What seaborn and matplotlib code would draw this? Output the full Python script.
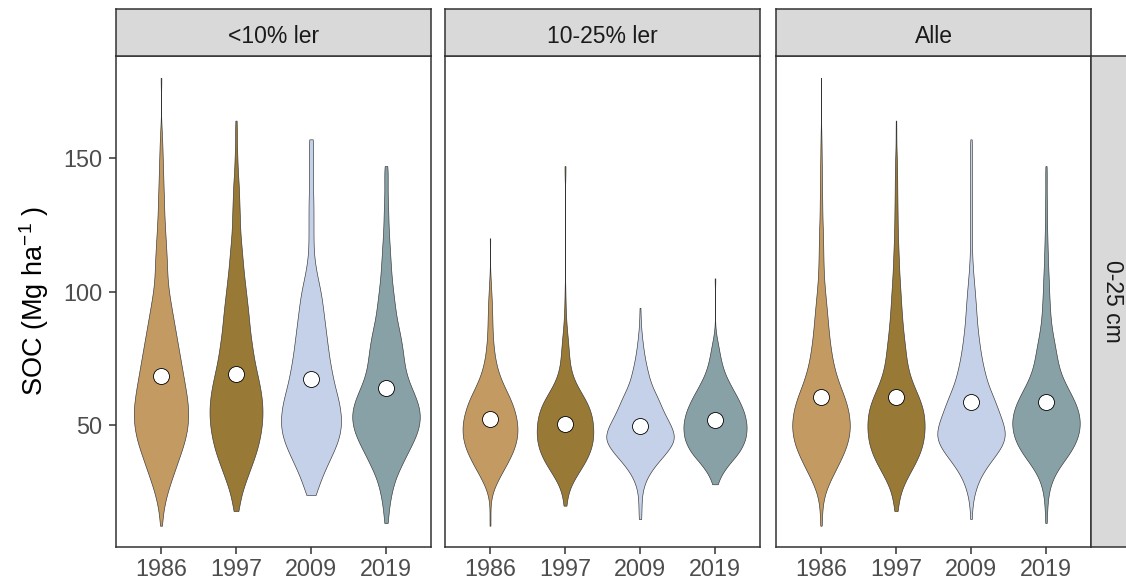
import numpy as np
import pandas as pd
import matplotlib
matplotlib.use('Agg')
import matplotlib.pyplot as plt
import seaborn as sns

sns.set_style('white')
plt.rcParams['font.family'] = ['Liberation Sans', 'DejaVu Sans']
plt.rcParams['mathtext.fontset'] = 'custom'
plt.rcParams['mathtext.rm'] = 'Liberation Sans'
plt.rcParams['mathtext.it'] = 'Liberation Sans:italic'

years = ['1986', '1997', '2009', '2019']
farver = ['#C29A62', '#997936', '#C5D1E8', '#87A1A6']
paneler = ['<10% ler', '10-25% ler', 'Alle']
dybde = '0-25 cm'

# SOC-klasser (Mg/ha) og antal jorder i hver klasse
soc_klasser = [15, 20, 25, 30, 35, 40, 45, 50, 55, 60,
               65, 70, 75, 80, 85, 90, 95, 100, 105, 110,
               115, 120, 125, 130, 135, 140, 145, 150, 155, 160]

# <10% ler
antal_lav = {
    '1986': [1, 4, 8, 14, 20, 26, 32, 35, 36, 34, 31, 28, 25, 22, 19, 16, 13, 10, 8, 8, 7, 6, 5, 4, 4, 3, 3, 2, 2, 1],
    '1997': [0, 4, 7, 14, 20, 27, 31, 34, 35, 34, 31, 27, 23, 21, 18, 17, 15, 13, 11, 9, 8, 6, 5, 5, 4, 4, 2, 2, 1, 1],
    '2009': [0, 0, 6, 12, 19, 27, 34, 37, 36, 33, 28, 25, 22, 20, 18, 16, 14, 12, 8, 5, 3, 3, 3, 3, 3, 2, 3, 2, 3, 0],
    '2019': [2, 4, 7, 11, 19, 27, 36, 42, 43, 38, 30, 24, 22, 20, 17, 13, 11, 9, 7, 6, 5, 4, 3, 3, 2, 2, 2, 0, 0, 0],
}
min_lav = [12.5, 18, 24, 13.5]
max_lav = [180, 164, 157, 147]

# 10-25% ler
antal_mellem = {
    '1986': [1, 0, 3, 17, 33, 48, 57, 58, 52, 43, 27, 16, 10, 7, 5, 5, 4, 3, 1, 0, 0, 0, 0, 0, 0, 0, 0, 0, 0, 0],
    '1997': [0, 2, 4, 17, 36, 50, 56, 55, 52, 40, 21, 11, 8, 7, 4, 2, 1, 1, 0, 0, 0, 0, 0, 0, 0, 0, 1, 0, 0, 0],
    '2009': [2, 3, 4, 12, 30, 56, 76, 64, 48, 38, 23, 16, 10, 6, 3, 1, 0, 0, 0, 0, 0, 0, 0, 0, 0, 0, 0, 0, 0, 0],
    '2019': [0, 0, 0, 6, 22, 45, 56, 58, 53, 42, 28, 16, 10, 6, 1, 0, 0, 0, 0, 0, 0, 0, 0, 0, 0, 0, 0, 0, 0, 0],
}
min_mellem = [12.5, 21.5, 15, 28]
max_mellem = [120, 147, 94, 105]

# udfold tabellerne til enkeltmaalinger
dele = []
for tekstur, antal, lo, hi in [('<10% ler', antal_lav, min_lav, max_lav),
                               ('10-25% ler', antal_mellem, min_mellem, max_mellem)]:
    for j, aar in enumerate(years):
        soc = np.concatenate([np.repeat(soc_klasser, antal[aar]), [lo[j], hi[j]]])
        dele.append(pd.DataFrame({'tekstur': tekstur, 'year': aar, 'soc': soc}))
df = pd.concat(dele, ignore_index=True)
df = pd.concat([df, df.assign(tekstur='Alle')], ignore_index=True)

W, H = 1126, 581
fig = plt.figure(figsize=(W / 100, H / 100), dpi=100)
lefts = [116, 445, 776]
pw = 315
bund, hoejde = (H - 546.7) / H, (546.7 - 55.5) / H
bw = [0.5, 0.9, 0.65]
kant = '#333333'

for i, navn in enumerate(paneler):
    ax = fig.add_axes([lefts[i] / W, bund, pw / W, hoejde])
    sub = df[df.tekstur == navn]
    sns.violinplot(data=sub, x='year', y='soc', hue='year', order=years, hue_order=years,
                   palette=farver, saturation=1, cut=0, inner=None, density_norm='area',
                   common_norm=True, width=0.9, linewidth=0.45, linecolor=kant,
                   bw_adjust=bw[i], legend=False, ax=ax)
    sns.pointplot(data=sub, x='year', y='soc', order=years, estimator='mean', errorbar=None,
                  color='black', linestyle='none', marker='o', markersize=11.5,
                  markerfacecolor='white', markeredgecolor='black', markeredgewidth=0.6, ax=ax)
    ax.set_xlim(-0.6, 3.6)
    ax.set_ylim(4.65, 188.35)
    ax.set_xlabel('')
    ax.set_ylabel('')
    ax.set_yticks([50, 100, 150])
    ax.tick_params(axis='both', length=5, width=1.1, color=kant, labelcolor='#4D4D4D',
                   labelsize=16.8, direction='out')
    ax.tick_params(axis='x', pad=3, bottom=True)
    ax.tick_params(axis='y', pad=5, left=True)
    if i > 0:
        ax.tick_params(axis='y', left=False, labelleft=False)
    for s in ax.spines.values():
        s.set_color(kant)
        s.set_linewidth(1.1)

    # strip foroven
    sax = fig.add_axes([lefts[i] / W, (H - 55.5) / H, pw / W, 46.5 / H])
    sax.set_facecolor('#D9D9D9')
    sax.set_xticks([])
    sax.set_yticks([])
    for s in sax.spines.values():
        s.set_color(kant)
        s.set_linewidth(1.1)
    sax.text(0.5, 0.27, navn, ha='center', va='baseline', fontsize=16.5, color='#1A1A1A',
             transform=sax.transAxes)

# strip til hoejre
rax = fig.add_axes([1091 / W, bund, 46 / W, hoejde])
rax.set_facecolor('#D9D9D9')
rax.set_xticks([])
rax.set_yticks([])
for s in rax.spines.values():
    s.set_color(kant)
    s.set_linewidth(1.1)
rax.text(0.47, 0.5, dybde, rotation=-90, ha='center', va='center', fontsize=16.5,
         color='#1A1A1A', transform=rax.transAxes)

fig.text(34 / W, 1 - 301 / H, r'SOC (Mg ha$^{-1}$ )', rotation=90, ha='center', va='center',
         fontsize=19.5, color='black')

fig.savefig('out.png', dpi=100)
